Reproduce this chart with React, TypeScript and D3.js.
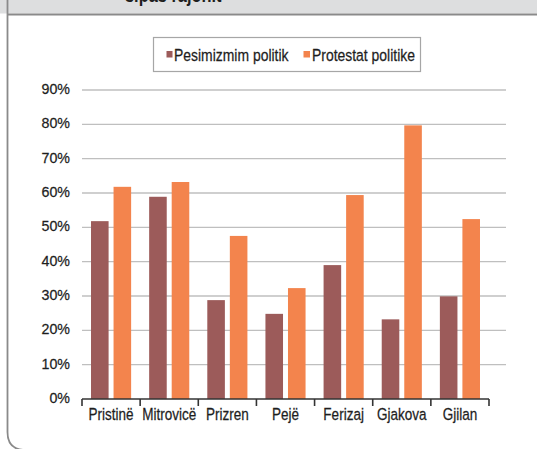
import React from "react";
import * as d3 from "d3";

const categories = ["Pristinë", "Mitrovicë", "Prizren", "Pejë", "Ferizaj", "Gjakova", "Gjilan"];
const seriesNames = ["Pesimizmim politik", "Protestat politike"];
const pesimizmim = [51.8, 58.9, 28.8, 24.8, 39.0, 23.2, 29.9];
const protestat = [61.8, 63.2, 47.5, 32.3, 59.4, 79.7, 52.4];
const yTicks = [0, 10, 20, 30, 40, 50, 60, 70, 80, 90];
const colors = ["#9C5B5A", "#F3844D"];
const titleText = "sipas rajonit";

const FONT = "'Liberation Sans', Arial, sans-serif";

function NText({ x, y, size, sx = 0.82, anchor = "start", weight = "normal", children }: any) {
  return (
    <g transform={`translate(${x},${y}) scale(${sx},1)`}>
      <text x={0} y={0} fontSize={size} fontWeight={weight} textAnchor={anchor} fill="#1E1E1E"
        stroke="#1E1E1E" strokeWidth={weight === "bold" ? 0 : 0.25} fontFamily={FONT}>
        {children}
      </text>
    </g>
  );
}

export default function App() {
  const W = 537, H = 449;
  const left = 82, right = 489, gridRight = 506, top = 90, bottom = 399;
  const x0 = d3.scaleBand<string>().domain(categories).range([left, right]).paddingInner(0).paddingOuter(0);
  const bw = x0.bandwidth();
  const x1 = d3.scaleBand<string>().domain(seriesNames).range([0.155 * bw, 0.845 * bw]).paddingInner(0.22);
  const y = d3.scaleLinear().domain([0, 90]).range([bottom, top]);
  const series = [pesimizmim, protestat];
  const tickXs = [...categories.map((c) => x0(c) as number), right];

  return (
    <svg width={W} height={H} style={{ position: "absolute", left: 0, top: 0, display: "block" }} fontFamily={FONT}>
      <rect x={0} y={0} width={W} height={H} fill="#ffffff" />
      {/* header band */}
      <rect x={0} y={0} width={W} height={13.5} fill="#DDDEDF" />
      <NText x={125} y={2} size={20} weight="bold">{titleText}</NText>
      <line x1={7} x2={W} y1={14.5} y2={14.5} stroke="#8A8A8A" strokeWidth={2} />
      {/* frame */}
      <path d={`M7.5,-10 L7.5,432 Q7.5,450 25.5,450 L${W + 10},450`} fill="none" stroke="#8A8A8A" strokeWidth={1.8} />

      {/* legend */}
      <rect x={153.5} y={37.5} width={267} height={34} fill="#fff" stroke="#A6A6A6" strokeWidth={1.2} />
      <rect x={166.5} y={51} width={6} height={6.5} fill={colors[0]} />
      <NText x={174} y={61} size={17}>{seriesNames[0]}</NText>
      <rect x={303.5} y={51} width={6.5} height={6.5} fill={colors[1]} />
      <NText x={312} y={61} size={17}>{seriesNames[1]}</NText>

      {/* gridlines */}
      {yTicks.filter((t) => t > 0).map((t) => (
        <line key={t} x1={left} x2={gridRight} y1={y(t)} y2={y(t)} stroke="#BFBFBF" strokeWidth={1.4} />
      ))}
      {/* y labels */}
      {yTicks.map((t) => (
        <NText key={t} x={70} y={y(t) + 4} size={15} sx={0.95} anchor="end">{t}%</NText>
      ))}

      {/* bars */}
      {categories.map((c, i) => (
        <g key={c}>
          {series.map((s, j) => (
            <rect
              key={j}
              x={(x0(c) as number) + (x1(seriesNames[j]) as number)}
              y={y(s[i])}
              width={x1.bandwidth()}
              height={bottom - y(s[i])}
              fill={colors[j]}
            />
          ))}
        </g>
      ))}

      {/* x axis */}
      <line x1={left} x2={right} y1={bottom} y2={bottom} stroke="#333" strokeWidth={1.6} />
      {tickXs.map((tx, i) => (
        <line key={i} x1={tx} x2={tx} y1={bottom} y2={bottom + 7} stroke="#333" strokeWidth={1.6} />
      ))}
      {categories.map((c) => (
        <NText key={c} x={(x0(c) as number) + bw / 2} y={420} size={16.5} anchor="middle">{c}</NText>
      ))}
    </svg>
  );
}
